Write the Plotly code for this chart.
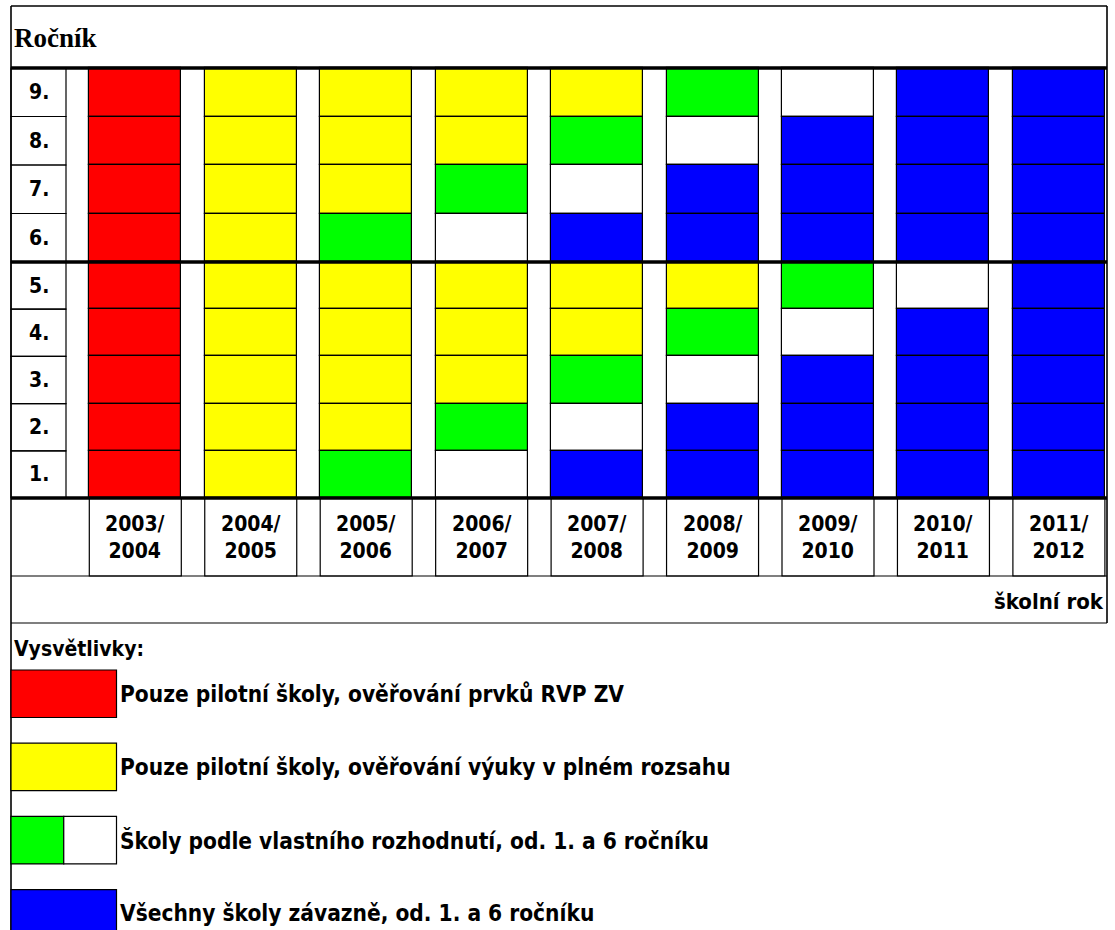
import numpy as np
import plotly.graph_objects as go

# ---------------- data ----------------
years = ["2003/2004", "2004/2005", "2005/2006", "2006/2007", "2007/2008",
         "2008/2009", "2009/2010", "2010/2011", "2011/2012"]
year_labels = ["2003/<br>2004", "2004/<br>2005", "2005/<br>2006", "2006/<br>2007",
               "2007/<br>2008", "2008/<br>2009", "2009/<br>2010", "2010/<br>2011",
               "2011/<br>2012"]
grades = ["9.", "8.", "7.", "6.", "5.", "4.", "3.", "2.", "1."]

# status of each grade (9. .. 1.) per school year
# R = pilot elements, Y = pilot full, G = own decision (start), W = own decision, B = all schools
status_2003_2004 = ["R", "R", "R", "R", "R", "R", "R", "R", "R"]
status_2004_2005 = ["Y", "Y", "Y", "Y", "Y", "Y", "Y", "Y", "Y"]
status_2005_2006 = ["Y", "Y", "Y", "G", "Y", "Y", "Y", "Y", "G"]
status_2006_2007 = ["Y", "Y", "G", "W", "Y", "Y", "Y", "G", "W"]
status_2007_2008 = ["Y", "G", "W", "B", "Y", "Y", "G", "W", "B"]
status_2008_2009 = ["G", "W", "B", "B", "Y", "G", "W", "B", "B"]
status_2009_2010 = ["W", "B", "B", "B", "G", "W", "B", "B", "B"]
status_2010_2011 = ["B", "B", "B", "B", "W", "B", "B", "B", "B"]
status_2011_2012 = ["B", "B", "B", "B", "B", "B", "B", "B", "B"]
status_table = [status_2003_2004, status_2004_2005, status_2005_2006, status_2006_2007,
                status_2007_2008, status_2008_2009, status_2009_2010, status_2010_2011,
                status_2011_2012]

status_colors = {"R": "#FF0000", "Y": "#FFFF00", "G": "#00FF00", "W": "#FFFFFF", "B": "#0000FF"}
legend_texts = ["Pouze pilotní školy, ověřování prvků RVP ZV",
                "Pouze pilotní školy, ověřování výuky v plném rozsahu",
                "Školy podle vlastního rozhodnutí, od. 1. a 6 ročníku",
                "Všechny školy závazně, od. 1. a 6 ročníku"]
legend_swatches = [["R"], ["Y"], ["G", "W"], ["B"]]

# ---------------- layout geometry (pixels) ----------------
W, H = 1115, 930
LEFT, RIGHT, TOP = 11, 1107, 6
HEADER_BOTTOM, SPLIT, GRID_BOTTOM = 68, 262, 498
YEAR_BOTTOM, NOTE_BOTTOM = 576, 623
LABEL_RIGHT = 66
COL0, COL_STEP, COL_W = 89.3, 115.45, 92

row_edges = np.concatenate([np.linspace(HEADER_BOTTOM, SPLIT, 5), np.linspace(SPLIT, GRID_BOTTOM, 6)[1:]])
row_top = row_edges[:-1]
row_h = np.diff(row_edges)
col_left = COL0 + COL_STEP * np.arange(len(years))
col_center = col_left + COL_W / 2

NARROW = "DejaVu Sans Condensed, Liberation Sans Narrow, Arial Narrow, DejaVu Sans, sans-serif"
FS_GRID = 21
FS_LEG = 22.5

fig = go.Figure()

# grid cells as bars, one trace per status
for code, color in status_colors.items():
    xs, bases, hs = [], [], []
    for ci, col in enumerate(status_table):
        for ri, st in enumerate(col):
            if st == code:
                xs.append(col_center[ci])
                bases.append(row_top[ri])
                hs.append(row_h[ri])
    if xs:
        fig.add_trace(go.Bar(x=xs, y=hs, base=bases, width=COL_W,
                             marker=dict(color=color, line=dict(color="black", width=1.2)),
                             showlegend=False, hoverinfo="skip"))

shapes = []
line_thin = dict(color="black", width=1.2)
# grade label cells
for ri in range(len(grades)):
    shapes.append(dict(type="rect", x0=LEFT, x1=LABEL_RIGHT, y0=row_edges[ri], y1=row_edges[ri + 1],
                       line=line_thin, fillcolor="rgba(0,0,0,0)"))
# year cells
for ci in range(len(years)):
    shapes.append(dict(type="rect", x0=col_left[ci], x1=col_left[ci] + COL_W, y0=GRID_BOTTOM, y1=YEAR_BOTTOM,
                       line=line_thin, fillcolor="rgba(0,0,0,0)"))
# horizontal full-width lines
for yy in [YEAR_BOTTOM, NOTE_BOTTOM]:
    shapes.append(dict(type="line", x0=LEFT, x1=RIGHT, y0=yy, y1=yy, line=line_thin))
for yy in [HEADER_BOTTOM, SPLIT, GRID_BOTTOM]:
    shapes.append(dict(type="line", x0=LEFT, x1=RIGHT, y0=yy, y1=yy, line=dict(color="black", width=3.5)))
# outer border
border = dict(color="black", width=1.6)
shapes.append(dict(type="line", x0=LEFT, x1=RIGHT, y0=TOP, y1=TOP, line=border))
shapes.append(dict(type="line", x0=RIGHT, x1=RIGHT, y0=TOP, y1=NOTE_BOTTOM, line=border))
shapes.append(dict(type="line", x0=LEFT, x1=LEFT, y0=TOP, y1=H, line=border))

# legend swatches
LEG_TOP0, LEG_STEP, LEG_H, LEG_W = 670, 73.2, 47.5, 105.5
for li, sw in enumerate(legend_swatches):
    y0 = LEG_TOP0 + li * LEG_STEP
    n = len(sw)
    for si, code in enumerate(sw):
        shapes.append(dict(type="rect", x0=LEFT + si * LEG_W / n, x1=LEFT + (si + 1) * LEG_W / n,
                           y0=y0, y1=y0 + LEG_H, line=line_thin, fillcolor=status_colors[code]))

annotations = []
annotations.append(dict(x=LEFT + 1, y=(TOP + HEADER_BOTTOM) / 2 + 1, text="<b>Ročník</b>", showarrow=False,
                        xanchor="left", yanchor="middle",
                        font=dict(family="Liberation Serif, Times New Roman, serif", size=27, color="black")))
for ri, g in enumerate(grades):
    annotations.append(dict(x=(LEFT + LABEL_RIGHT) / 2, y=row_top[ri] + row_h[ri] / 2, text="<b>%s</b>" % g,
                            showarrow=False, xanchor="center", yanchor="middle",
                            font=dict(family=NARROW, size=FS_GRID, color="black")))
for ci, lab in enumerate(year_labels):
    annotations.append(dict(x=col_center[ci], y=(GRID_BOTTOM + YEAR_BOTTOM) / 2, text="<b>%s</b>" % lab,
                            showarrow=False, xanchor="center", yanchor="middle",
                            font=dict(family=NARROW, size=FS_GRID, color="black")))
annotations.append(dict(x=RIGHT - 1, y=(YEAR_BOTTOM + NOTE_BOTTOM) / 2 + 2, text="<b>školní rok</b>",
                        showarrow=False, xanchor="right", yanchor="middle",
                        font=dict(family=NARROW, size=22, color="black")))
annotations.append(dict(x=LEFT + 1, y=649, text="<b>Vysvětlivky:</b>", showarrow=False,
                        xanchor="left", yanchor="middle", font=dict(family=NARROW, size=21, color="black")))
for li, t in enumerate(legend_texts):
    annotations.append(dict(x=LEFT + LEG_W + 1, y=LEG_TOP0 + li * LEG_STEP + LEG_H / 2, text="<b>%s</b>" % t,
                            showarrow=False, xanchor="left", yanchor="middle",
                            font=dict(family=NARROW, size=FS_LEG, color="black")))

fig.update_layout(
    width=W, height=H, margin=dict(l=0, r=0, t=0, b=0),
    paper_bgcolor="white", plot_bgcolor="white",
    barmode="overlay", bargap=0,
    xaxis=dict(range=[0, W], visible=False, fixedrange=True),
    yaxis=dict(range=[H, 0], visible=False, fixedrange=True),
    shapes=shapes, annotations=annotations, showlegend=False,
)

fig.write_html("out.html", config={"displayModeBar": False},
               post_script="document.body.style.margin='0px';document.body.style.overflow='hidden';")
